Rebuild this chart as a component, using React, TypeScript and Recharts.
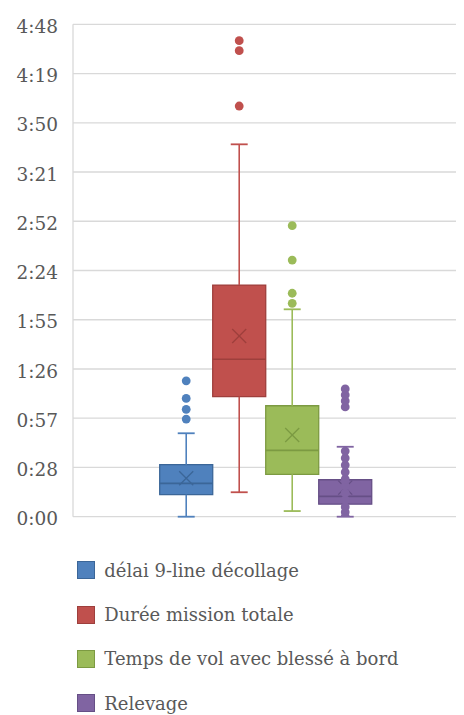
import React from 'react';
import {
  ComposedChart,
  XAxis,
  YAxis,
  CartesianGrid,
  ReferenceArea,
  ReferenceLine,
  Scatter,
} from 'recharts';

// ---- data (minutes) ----
const categories = [
  'délai 9-line décollage',
  'Durée mission totale',
  'Temps de vol avec blessé à bord',
  'Relevage',
];
const mins = [0, 14.3, 3.3, 0];
const q1s = [12.9, 70.2, 24.8, 7.3];
const medians = [19.5, 92.1, 38.8, 11.9];
const q3s = [30.4, 135.5, 64.9, 21.6];
const maxs = [48.8, 217.8, 121.3, 40.9];
const means = [22.5, 105.7, 47.8, 17.0];
const outliers = [
  [57.1, 62.8, 69.2, 79.5],
  [240.2, 272.6, 278.4],
  [124.8, 130.7, 150.1, 170.2],
  [64.2, 67.7, 71.2, 74.7],
];
const innerPoints = [
  [],
  [],
  [],
  [0, 2.7, 5.7, 9.8, 13.9, 18, 22, 26.1, 30.2, 34.3, 38.4],
];
const yTicks = [0, 28.8, 57.6, 86.4, 115.2, 144, 172.8, 201.6, 230.4, 259.2, 288];
const yTickLabels = ['0:00', '0:28', '0:57', '1:26', '1:55', '2:24', '2:52', '3:21', '3:50', '4:19', '4:48'];

// ---- styles ----
const fills = ['#4f81bd', '#c0504d', '#9bbb59', '#8064a2'];
const darks = ['#3b6698', '#9e3f3c', '#7c9a42', '#664f86'];
const FONT = '"DejaVu Serif", serif';
const TEXT = '#595959';
const GRID = '#d9d9d9';
const HALF_BOX = 0.5;
const HALF_CAP = 0.16;

const Dot = (color: string) => (props: any) => {
  const { cx, cy } = props;
  if (cx == null || cy == null) return null;
  return <circle cx={cx} cy={cy} r={4.4} fill={color} />;
};

const MeanX = (color: string) => (props: any) => {
  const { cx, cy } = props;
  if (cx == null || cy == null) return null;
  const s = 7;
  return (
    <g stroke={color} strokeWidth={1.3}>
      <line x1={cx - s} y1={cy - s} x2={cx + s} y2={cy + s} />
      <line x1={cx - s} y1={cy + s} x2={cx + s} y2={cy - s} />
    </g>
  );
};

export default function App() {
  const tickFmt = (v: number) => {
    const idx = yTicks.findIndex((t) => Math.abs(t - v) < 1e-6);
    return idx >= 0 ? yTickLabels[idx] : '';
  };

  return (
    <div style={{ width: 456, fontFamily: FONT }}>
      <ComposedChart
        width={456}
        height={530}
        margin={{ top: 16.3, right: 0, bottom: 21.3, left: 0 }}
      >
        <CartesianGrid vertical={false} stroke={GRID} strokeWidth={1.3} />
        <XAxis
          type="number"
          dataKey="x"
          domain={[-2.136, 5.241]}
          allowDataOverflow
          hide
        />
        <YAxis
          type="number"
          dataKey="y"
          domain={[0, 288]}
          ticks={yTicks}
          tickFormatter={tickFmt}
          interval={0}
          width={65}
          axisLine={{ stroke: GRID, strokeWidth: 1.3 }}
          tickLine={false}
          tickSize={0}
          tickMargin={15}
          tick={{ fill: TEXT, fontSize: 18.5, fontFamily: FONT, dy: 2 }}
          allowDataOverflow
        />

        {categories.map((c, i) => (
          <ReferenceLine
            key={`wu-${i}`}
            segment={[{ x: i, y: q3s[i] }, { x: i, y: maxs[i] }]}
            stroke={fills[i]}
            strokeWidth={1.6}
          />
        ))}
        {categories.map((c, i) => (
          <ReferenceLine
            key={`wl-${i}`}
            segment={[{ x: i, y: mins[i] }, { x: i, y: q1s[i] }]}
            stroke={fills[i]}
            strokeWidth={1.6}
          />
        ))}
        {categories.map((c, i) => (
          <ReferenceLine
            key={`cu-${i}`}
            segment={[{ x: i - HALF_CAP, y: maxs[i] }, { x: i + HALF_CAP, y: maxs[i] }]}
            stroke={fills[i]}
            strokeWidth={1.8}
          />
        ))}
        {categories.map((c, i) => (
          <ReferenceLine
            key={`cl-${i}`}
            segment={[{ x: i - HALF_CAP, y: mins[i] }, { x: i + HALF_CAP, y: mins[i] }]}
            stroke={fills[i]}
            strokeWidth={1.8}
          />
        ))}
        {categories.map((c, i) => (
          <ReferenceArea
            key={`box-${i}`}
            x1={i - HALF_BOX}
            x2={i + HALF_BOX}
            y1={q1s[i]}
            y2={q3s[i]}
            fill={fills[i]}
            fillOpacity={1}
            stroke={darks[i]}
            strokeWidth={1.3}
          />
        ))}
        {categories.map((c, i) => (
          <ReferenceLine
            key={`med-${i}`}
            segment={[{ x: i - HALF_BOX, y: medians[i] }, { x: i + HALF_BOX, y: medians[i] }]}
            stroke={darks[i]}
            strokeWidth={1.6}
          />
        ))}
        {categories.map((c, i) => (
          <Scatter
            key={`mean-${i}`}
            name={`${c} moyenne`}
            data={[{ x: i, y: means[i] }]}
            shape={MeanX(darks[i])}
            isAnimationActive={false}
          />
        ))}
        {categories.map((c, i) => (
          <Scatter
            key={`pts-${i}`}
            name={c}
            data={outliers[i].concat(innerPoints[i]).map((v) => ({ x: i, y: v }))}
            shape={Dot(fills[i])}
            isAnimationActive={false}
          />
        ))}
      </ComposedChart>
      <div style={{ paddingTop: 10.4 }}>
        {categories.map((c, i) => (
          <div
            key={c}
            style={{ height: 44.2, display: 'flex', alignItems: 'center', paddingLeft: 69.3 }}
          >
            <span
              style={{
                width: 16,
                height: 16,
                background: fills[i],
                border: `1px solid ${darks[i]}`,
                display: 'inline-block',
                marginRight: 9,
              }}
            />
            <span style={{ fontSize: 18, color: TEXT, fontFamily: FONT, whiteSpace: 'nowrap' }}>{c}</span>
          </div>
        ))}
      </div>
    </div>
  );
}
